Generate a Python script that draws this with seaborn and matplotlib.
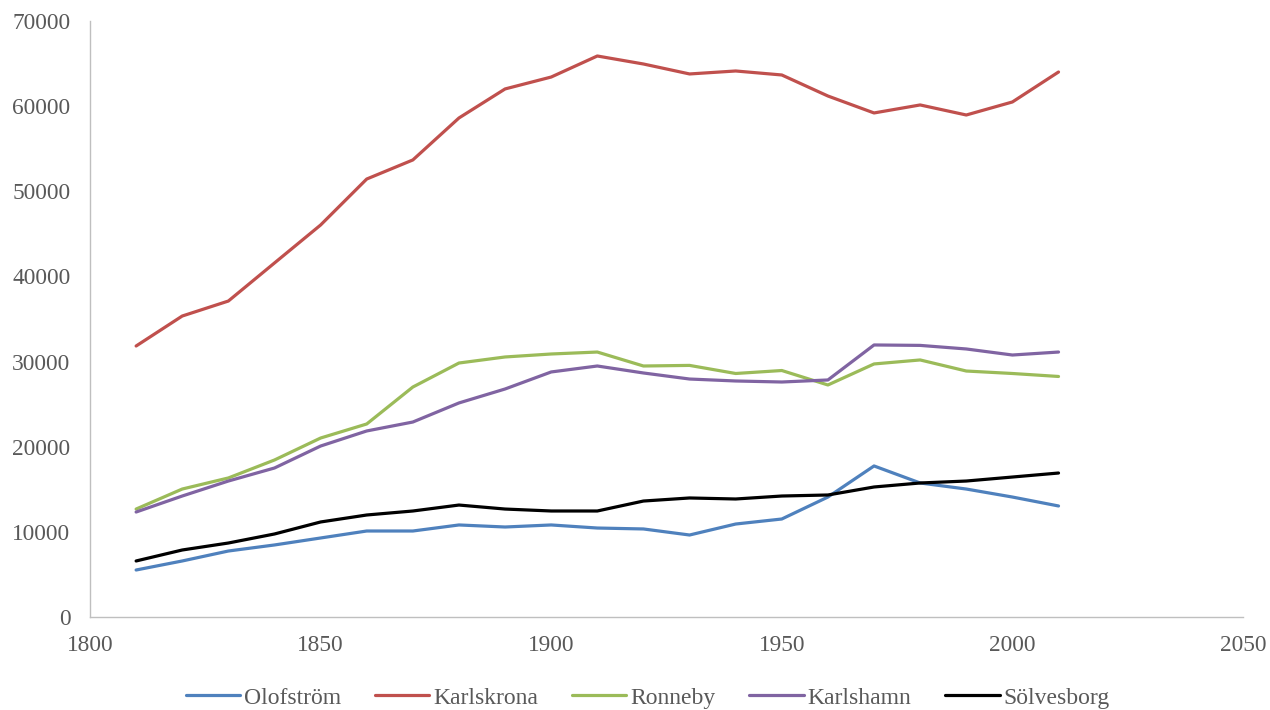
import pandas as pd
import seaborn as sns
import matplotlib
matplotlib.use("Agg")
import matplotlib.pyplot as plt

sns.set_theme(style="white")
plt.rcParams['font.family'] = ['Liberation Serif', 'DejaVu Serif']

years = list(range(1810, 2011, 10))

olofstrom = [5520, 6580, 7750, 8460, 9280, 10100, 10100, 10810, 10570, 10810, 10450,
             10340, 9630, 10920, 11510, 14090, 17740, 15740, 15030, 14090, 13040]
karlskrona = [31830, 35350, 37110, 41580, 46040, 51440, 53680, 58610, 62020, 63420, 65890,
              64950, 63780, 64130, 63660, 61190, 59200, 60140, 58960, 60490, 64010]
ronneby = [12680, 15030, 16330, 18440, 21020, 22670, 27010, 29830, 30540, 30890, 31120,
           29480, 29550, 28600, 28950, 27250, 29720, 30190, 28890, 28600, 28250]
karlshamn = [12330, 14210, 15970, 17500, 20080, 21850, 22900, 25140, 26780, 28780, 29480,
             28660, 27950, 27720, 27600, 27840, 31950, 31900, 31480, 30770, 31120]
solvesborg = [6580, 7870, 8690, 9750, 11160, 11980, 12450, 13150, 12680, 12450, 12450,
              13620, 13980, 13860, 14210, 14330, 15270, 15740, 15970, 16440, 16910]

names = ["Olofström", "Karlskrona", "Ronneby", "Karlshamn", "Sölvesborg"]
colors = ["#4F81BD", "#C0504D", "#9BBB59", "#8064A2", "#000000"]

frames = []
for name, vals in zip(names, [olofstrom, karlskrona, ronneby, karlshamn, solvesborg]):
    frames.append(pd.DataFrame({"year": years, "pop": vals, "city": name}))
data = pd.concat(frames, ignore_index=True)

fig = plt.figure(figsize=(12.7, 7.1), dpi=100)
ax = fig.add_axes([90 / 1270, 93 / 710, 1153 / 1270, 596 / 710])

sns.lineplot(data=data, x="year", y="pop", hue="city", hue_order=names,
             palette=dict(zip(names, colors)), linewidth=2.3, ax=ax, legend=False)

ax.set_xlim(1800, 2050)
ax.set_ylim(0, 70000)
ax.set_xticks(range(1800, 2051, 50))
ax.set_yticks(range(0, 70001, 10000))
ax.set_xlabel("")
ax.set_ylabel("")

for side in ["top", "right"]:
    ax.spines[side].set_visible(False)
for side in ["left", "bottom"]:
    ax.spines[side].set_color("#BFBFBF")
    ax.spines[side].set_linewidth(1.0)

ax.tick_params(axis="both", length=0, labelsize=16.8, labelcolor="#595959")
ax.tick_params(axis="x", pad=13)
ax.tick_params(axis="y", pad=14)

handles = [plt.Line2D([], [], color=c, linewidth=2.3) for c in colors]
fig.legend(handles, names, loc="center", bbox_to_anchor=(0.51, 0.017), ncol=5,
           frameon=False, fontsize=17, handlelength=2.3, handletextpad=0.15,
           columnspacing=1.45, labelcolor="#595959")

plt.savefig("out.png", dpi=100)
